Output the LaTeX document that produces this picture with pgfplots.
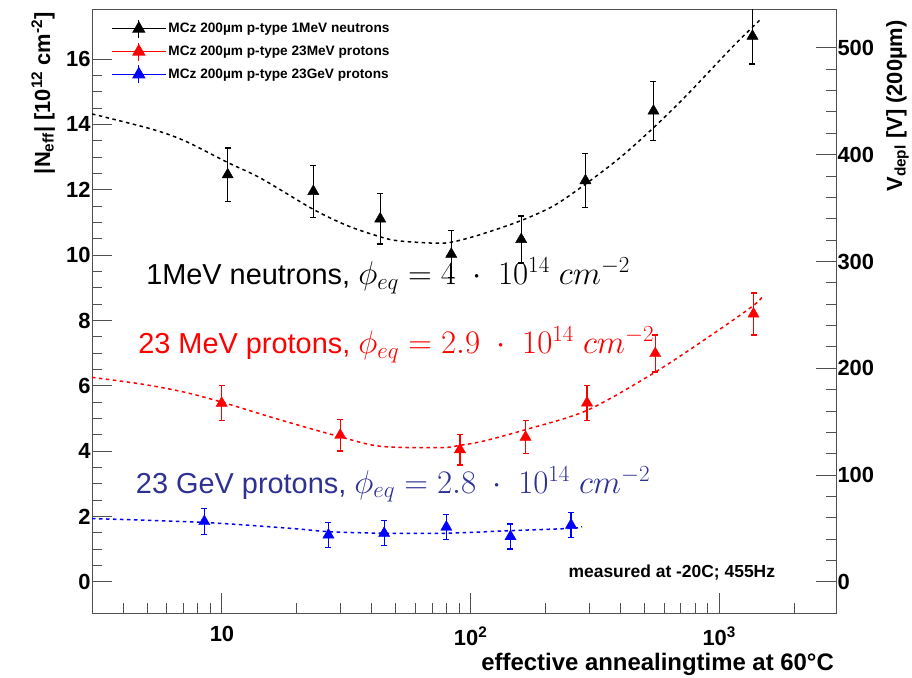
\RequirePackage{fix-cm}
\documentclass[border=0pt]{standalone}
\usepackage{fontspec}
\setmainfont{Liberation Sans}
\usepackage{pgfplots}
\pgfplotsset{compat=1.18}
\usepackage{pgfplotstable}

\definecolor{navytext}{RGB}{46,49,146}
\definecolor{framegray}{RGB}{80,80,80}

% measured |N_eff| (x: annealing time, y: value, ey: error)
\pgfplotstableread{
x      y      ey
10.54  12.46  0.82
23.3   11.95  0.80
43.3   11.11  0.77
83.6   10.03  0.72
159.8  10.48  0.72
289.7  12.28  0.82
544    14.41  0.90
1361   16.70  0.85
}\neutrons

\pgfplotstableread{
x      y      ey
9.97   5.47   0.54
29.9   4.49   0.48
90.6   4.05   0.47
166.4  4.43   0.50
294    5.48   0.53
553    6.99   0.57
1374   8.20   0.64
}\mevprotons

\pgfplotstableread{
x      y      ey
8.49   1.85   0.40
26.8   1.44   0.38
44.9   1.49   0.38
79.9   1.68   0.39
144.7  1.39   0.38
253.6  1.74   0.38
}\gevprotons

% annealing fits
\pgfplotstableread{
x      y
3      14.32
5.19   13.86
7.06   13.50
10.57  12.83
14.34  12.35
23.3   11.40
31.98  10.90
43.3   10.56
50.8   10.44
69.1   10.37
83.0   10.39
109.6  10.63
158.8  11.05
216    11.51
289.5  12.17
400.3  12.99
544.5  13.90
741.6  14.90
1141   16.40
1461   17.20
}\neutronfit

\pgfplotstableread{
x      y
3      6.26
4.8    6.05
7.03   5.81
10.0   5.50
17.3   4.95
29.9   4.44
43.5   4.15
75.8   4.11
90.6   4.18
112.7  4.31
166.4  4.66
294    5.25
553    6.42
949    7.60
1374   8.46
1503   8.76
}\mevfit

\pgfplotstableread{
x      y
3      1.94
8.49   1.82
18.9   1.64
26.8   1.54
44.9   1.49
79.9   1.49
144.7  1.57
253.6  1.64
281    1.69
}\gevfit

\newcommand\fluence[1]{{\fontsize{33}{33}\selectfont$\phi_{eq} = #1 \;\cdot\; 10^{14}\;cm^{-2}$}}

\begin{document}
\begin{tikzpicture}
\pgfplotsset{
  fitline/.style={line width=1.5bp, dash pattern=on 3.5bp off 3.5bp, smooth, no marks},
  datapts/.style={only marks, mark=triangle*, mark size=6.5bp,
    /pgfplots/error bars/y dir=both, /pgfplots/error bars/y explicit,
    /pgfplots/error bars/error bar style={line width=1.3bp},
    /pgfplots/error bars/error mark options={rotate=90, mark size=3bp, line width=1.3bp}},
}
\begin{axis}[
  name=main,
  scale only axis, width=744bp, height=603bp,
  xmode=log, xmin=3, xmax=2950, ymin=-0.95, ymax=17.5,
  xtick={10,100,1000},
  xticklabels={10,10\textsuperscript{2},10\textsuperscript{3}},
  minor xtick={4,5,6,7,8,9,20,30,40,50,60,70,80,90,200,300,400,500,600,700,800,900,2000},
  ytick={0,2,...,16}, minor y tick num=3,
  xtick pos=left, ytick pos=left,
  tick align=inside,
  major tick length=20bp, minor tick length=10bp,
  axis line style={framegray, line width=1bp},
  every tick/.style={framegray, line width=1bp},
  ticklabel style={font=\bfseries\fontsize{22}{22}\selectfont},
  xticklabel style={yshift=-10bp},
  yticklabel style={xshift=2bp},
  /pgf/number format/assume math mode=true,
  legend style={at={(0,1)}, anchor=north west, xshift=16bp, yshift=-7bp,
    draw=none, fill=none, font=\bfseries\fontsize{13.7}{13.7}\selectfont,
    row sep=3.5bp,
    /tikz/every even column/.append style={column sep=7bp}},
  legend cell align=left,
  legend image code/.code={
    \draw[mark repeat=2, mark phase=2, #1] plot coordinates {(0bp,0bp) (27bp,0bp) (54bp,0bp)};
    \draw[#1] (27bp,-9bp) -- (27bp,9bp);},
]
\addlegendimage{black, mark=triangle*, mark size=6.5bp, line width=1.3bp}
\addlegendentry{MCz 200µm p-type 1MeV neutrons}
\addlegendimage{red, mark=triangle*, mark size=6.5bp, line width=1.3bp}
\addlegendentry{MCz 200µm p-type 23MeV protons}
\addlegendimage{blue, mark=triangle*, mark size=6.5bp, line width=1.3bp}
\addlegendentry{MCz 200µm p-type 23GeV protons}

\addplot[black, fitline, forget plot] table[x=x, y=y] {\neutronfit};
\addplot[red, fitline, forget plot] table[x=x, y=y] {\mevfit};
\addplot[blue, fitline, forget plot] table[x=x, y=y] {\gevfit};

\addplot[black, forget plot, datapts] table[x=x, y=y, y error=ey] {\neutrons};
\addplot[red, forget plot, datapts] table[x=x, y=y, y error=ey] {\mevprotons};
\addplot[blue, forget plot, datapts] table[x=x, y=y, y error=ey] {\gevprotons};

\node[anchor=base west, inner sep=0, font=\fontsize{29}{29}\selectfont]
  at (axis cs:4.95,9.1) {1MeV neutrons, \fluence{4}};
\node[anchor=base west, inner sep=0, text=red, font=\fontsize{29}{29}\selectfont]
  at (axis cs:4.6,7.0) {23 MeV protons, \fluence{2.9}};
\node[anchor=base west, inner sep=0, text=navytext, font=\fontsize{29}{29}\selectfont]
  at (axis cs:4.5,2.72) {23 GeV protons, \fluence{2.8}};
\node[anchor=base west, inner sep=0, font=\bfseries\fontsize{17.5}{17.5}\selectfont]
  at (axis cs:247.5,0.15) {measured at -20C; 455Hz};
\end{axis}

\begin{axis}[
  scale only axis, width=744bp, height=603bp,
  xmode=log, xmin=3, xmax=2950, ymin=-29.1, ymax=535.5,
  axis x line=none, axis y line*=right,
  ytick={0,100,...,500}, minor y tick num=4,
  tick align=inside,
  major tick length=20bp, minor tick length=10bp,
  axis line style={framegray, line width=1bp, -},
  every tick/.style={framegray, line width=1bp},
  ticklabel style={font=\bfseries\fontsize{22}{22}\selectfont},
  yticklabel style={xshift=-2bp},
  /pgf/number format/assume math mode=true,
]
\end{axis}

\node[rotate=90, anchor=base east, inner sep=0, font=\bfseries\fontsize{22}{22}\selectfont]
  at ([xshift=-42bp, yshift=-2bp]main.north west)
  {|N\textsubscript{eff}| [10\textsuperscript{12} cm\textsuperscript{-2}]};
\node[rotate=90, anchor=base east, inner sep=0, font=\bfseries\fontsize{22}{22}\selectfont]
  at ([xshift=66bp, yshift=-10bp]main.north east)
  {V\textsubscript{depl} [V] (200µm)};
\node[anchor=base east, inner sep=0, font=\bfseries\fontsize{24}{24}\selectfont]
  at ([xshift=-2bp, yshift=-57bp]main.south east)
  {effective annealingtime at 60°C};

\pgfresetboundingbox
\path ([xshift=-92bp, yshift=-64bp]main.south west) rectangle ([xshift=76bp, yshift=10bp]main.north east);
\end{tikzpicture}
\end{document}
